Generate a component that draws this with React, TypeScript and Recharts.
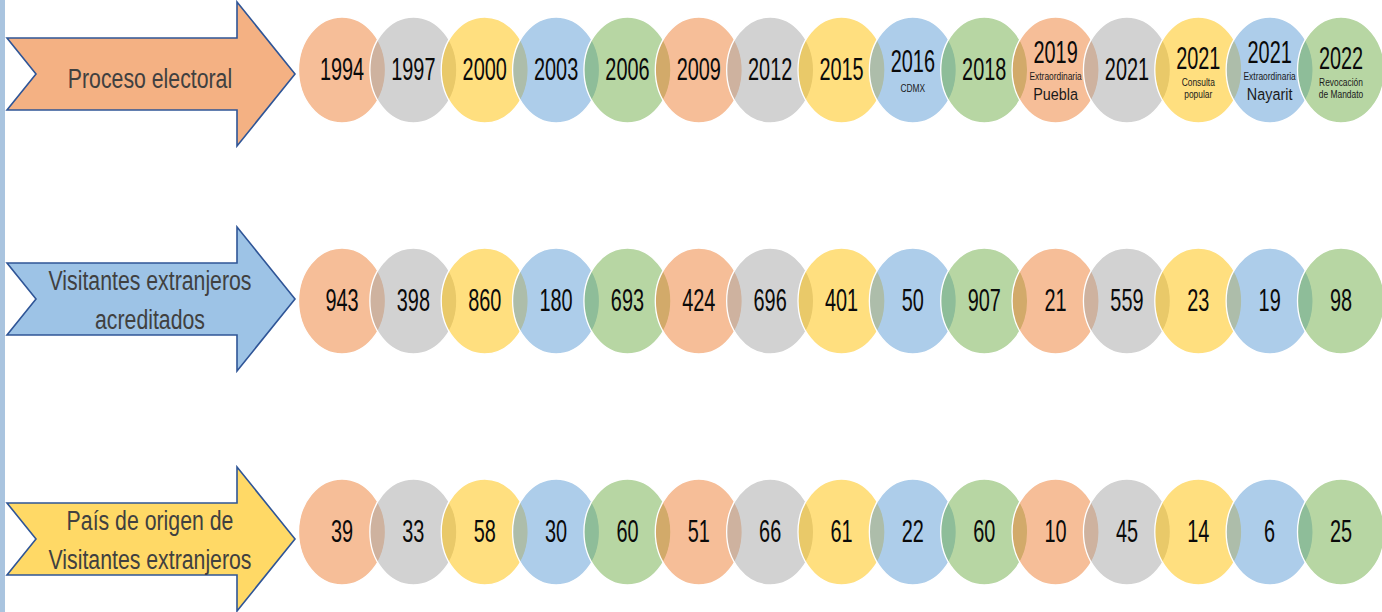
import React from "react";
import { ScatterChart, Scatter, XAxis, YAxis } from "recharts";

// ---- data ----
const procesos = ["1994", "1997", "2000", "2003", "2006", "2009", "2012", "2015", "2016", "2018", "2019", "2021", "2021", "2021", "2022"];
const procesoNotas: string[][] = [[], [], [], [], [], [], [], [], ["CDMX"], [], ["Extraordinaria"], [], ["Consulta", "popular"], ["Extraordinaria"], ["Revocación", "de Mandato"]];
const procesoLugares = ["", "", "", "", "", "", "", "", "", "", "Puebla", "", "", "Nayarit", ""];
const visitantesAcreditados = [943, 398, 860, 180, 693, 424, 696, 401, 50, 907, 21, 559, 23, 19, 98];
const paisesOrigen = [39, 33, 58, 30, 60, 51, 66, 61, 22, 60, 10, 45, 14, 6, 25];
const filas: string[][] = [["Proceso electoral"], ["Visitantes extranjeros", "acreditados"], ["País de origen de", "Visitantes extranjeros"]];

// ---- style / layout ----
const W = 1382;
const H = 612;
const CIRCLE_COLORS = ["#ED7D31", "#A5A5A5", "#FFC000", "#5B9BD5", "#70AD47"];
const ARROW_FILLS = ["#F4B183", "#9DC3E6", "#FFD966"];
const ARROW_NUDGE = [4, -2, 7];
const FONT = "'Liberation Sans', Arial, Helvetica, sans-serif";

type Pt = { x: number; y: number; row: number; idx: number };

const points: Pt[] = [];
for (let r = 0; r < 3; r++) {
  for (let i = 0; i < procesos.length; i++) points.push({ x: i, y: r, row: r, idx: i });
}
const arrowPts = filas.map((_, r) => ({ x: 0, y: r, row: r }));

function SText(props: { x: number; y: number; size: number; sx: number; sy: number; fill: string; children: React.ReactNode }) {
  const { x, y, size, sx, sy, fill, children } = props;
  return (
    <text
      transform={`translate(${x},${y}) scale(${sx},${sy})`}
      textAnchor="middle"
      fontFamily={FONT}
      fontSize={size}
      fill={fill}
    >
      {children}
    </text>
  );
}

const Disc = (props: any) => {
  const { cx, cy, payload } = props;
  if (cx == null || cy == null) return null;
  const color = CIRCLE_COLORS[payload.idx % CIRCLE_COLORS.length];
  return <ellipse cx={cx} cy={cy} rx={43.5} ry={53} fill={color} fillOpacity={0.5} stroke="#ffffff" strokeWidth={1.3} />;
};

const DIGIT = { size: 28, sx: 0.71, sy: 1.15, fill: "#0a0a0a" };

const DiscLabel = (props: any) => {
  const { cx, cy, payload } = props;
  if (cx == null || cy == null) return null;
  const { row, idx } = payload;
  if (row === 1) return <SText x={cx} y={cy + 10} {...DIGIT}>{visitantesAcreditados[idx]}</SText>;
  if (row === 2) return <SText x={cx} y={cy + 10} {...DIGIT}>{paisesOrigen[idx]}</SText>;
  const notas = procesoNotas[idx];
  const lugar = procesoLugares[idx];
  let yearY = cy + 10;
  let noteYs: number[] = [];
  let placeY = 0;
  if (lugar) {
    yearY = cy - 7;
    noteYs = [cy + 10];
    placeY = cy + 30;
  } else if (notas.length === 2) {
    yearY = cy - 1;
    noteYs = [cy + 16, cy + 28];
  } else if (notas.length === 1) {
    yearY = cy + 2;
    noteYs = [cy + 22];
  }
  return (
    <g>
      <SText x={cx} y={yearY} {...DIGIT}>{procesos[idx]}</SText>
      {notas.map((n, k) => (
        <SText key={k} x={cx} y={noteYs[k]} size={10.5} sx={0.8} sy={1.0} fill="#1a1a1a">{n}</SText>
      ))}
      {lugar ? <SText x={cx} y={placeY} size={18} sx={0.8} sy={0.95} fill="#1a1a1a">{lugar}</SText> : null}
    </g>
  );
};

const Arrow = (props: any) => {
  const { cy, payload } = props;
  if (cy == null) return null;
  const r = payload.row;
  const ay = cy + ARROW_NUDGE[r];
  const left = 7, notch = 36, base = 237, tip = 295, bh = 36, hh = 72;
  const d = `M${left},${ay - bh} L${base},${ay - bh} L${base},${ay - hh} L${tip},${ay} L${base},${ay + hh} L${base},${ay + bh} L${left},${ay + bh} L${notch},${ay} Z`;
  const lines = filas[r];
  const tx = 150;
  const ys = lines.length === 1 ? [ay + 14] : [ay - 9, ay + 30];
  return (
    <g>
      <path d={d} fill={ARROW_FILLS[r]} stroke="#2F5597" strokeWidth={1.6} strokeLinejoin="miter" />
      {lines.map((l, k) => (
        <SText key={k} x={tx} y={ys[k]} size={28} sx={0.76} sy={1.0} fill="#404040">{l}</SText>
      ))}
    </g>
  );
};

export default function App() {
  return (
    <div style={{ position: "absolute", left: 0, top: 0, width: W, height: H, background: "#ffffff", overflow: "hidden" }}>
      <div style={{ position: "absolute", left: 0, top: 0, width: 5, height: H, background: "#A9C4DF" }} />
      <ScatterChart width={W} height={H} margin={{ top: 70, right: 41, bottom: 80, left: 342 }}>
        <XAxis type="number" dataKey="x" domain={[0, 14]} hide />
        <YAxis type="number" dataKey="y" domain={[0, 2]} reversed hide />
        <Scatter data={arrowPts} shape={Arrow} isAnimationActive={false} />
        <Scatter data={points} shape={Disc} isAnimationActive={false} />
        <Scatter data={points} shape={DiscLabel} isAnimationActive={false} />
      </ScatterChart>
    </div>
  );
}
